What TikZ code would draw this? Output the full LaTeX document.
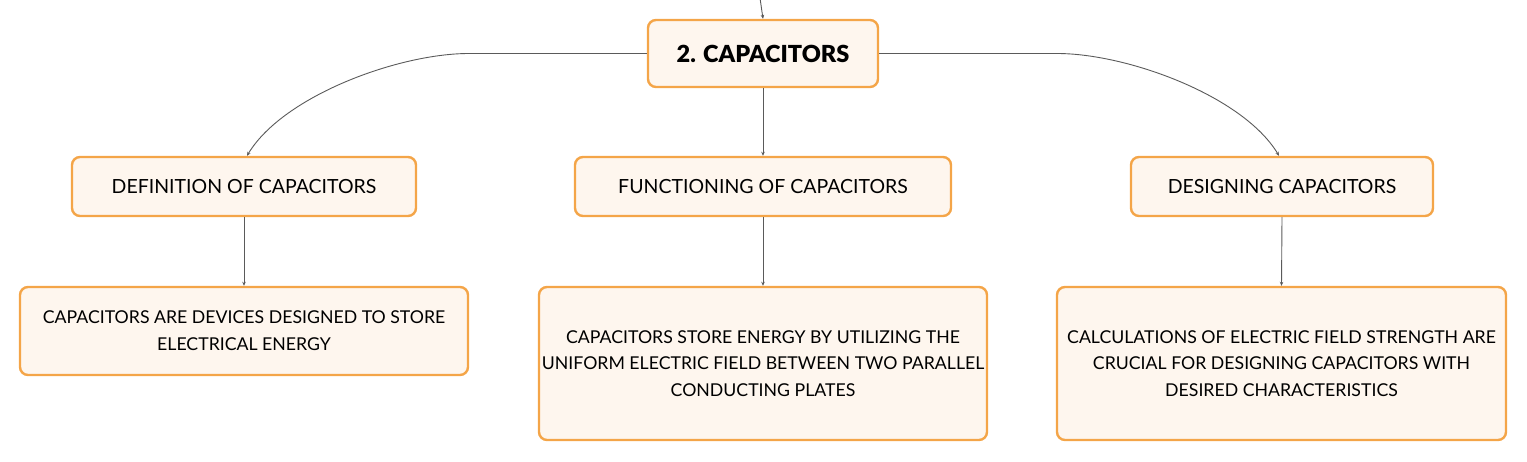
\documentclass[tikz,border=0pt]{standalone}
\usepackage{fontspec}
\setmainfont{Lato}
\newfontfamily\titlefont{Lato Black}
\usetikzlibrary{arrows.meta}
\definecolor{boxfill}{HTML}{FEF6EE}
\definecolor{boxdraw}{HTML}{F4A548}
\definecolor{linegray}{HTML}{5A5A5A}
\tikzset{
  box/.style={draw=boxdraw, fill=boxfill, line width=2.4pt, rounded corners=8pt,
    inner sep=0pt, align=center, font=\fontsize{17.7}{26.7}\selectfont},
  midbox/.style={box, font=\fontsize{19.5}{26.7}\selectfont},
  titlebox/.style={box, font=\fontsize{23.5}{28}\titlefont},
  arr/.style={draw=linegray, line width=0.9pt, -{Stealth[length=4pt,width=3.5pt]}}
}
\begin{document}
\begin{tikzpicture}[x=1pt,y=-1pt]
\useasboundingbox (0,0) rectangle (1527,461);
\node[titlebox, minimum width=230pt, minimum height=67pt] (top) at (763,53.5) {2. CAPACITORS};
\node[midbox, minimum width=344pt, minimum height=59pt] (def) at (244,186.5) {DEFINITION OF CAPACITORS};
\node[midbox, minimum width=376pt, minimum height=59pt] (fun) at (763,186.5) {FUNCTIONING OF CAPACITORS};
\node[midbox, minimum width=302pt, minimum height=59pt] (des) at (1282,186.5) {DESIGNING CAPACITORS};
\node[box, minimum width=448pt, minimum height=88pt] (defd) at (244,331) {CAPACITORS ARE DEVICES DESIGNED TO STORE\\ELECTRICAL ENERGY};
\node[box, minimum width=448pt, minimum height=153pt] (fund) at (763,363.5) {CAPACITORS STORE ENERGY BY UTILIZING THE\\UNIFORM ELECTRIC FIELD BETWEEN TWO PARALLEL\\CONDUCTING PLATES};
\node[box, minimum width=449pt, minimum height=153pt] (desd) at (1281.5,363.5) {CALCULATIONS OF ELECTRIC FIELD STRENGTH ARE\\CRUCIAL FOR DESIGNING CAPACITORS WITH\\DESIRED CHARACTERISTICS};
\coordinate (in) at (760,-2);
\draw[arr] (in) -- (top.north);
\draw[arr] (top.west) -- ++(-178,0) .. controls +(-70,0) and +(36,-60) .. ([xshift=3pt]def.north);
\draw[arr] (top.east) -- ++(178,0) .. controls +(70,0) and +(-36,-60) .. ([xshift=-3pt]des.north);
\draw[arr] (top.south) -- (fun.north);
\draw[arr] (def.south) -- (defd.north);
\draw[arr] (fun.south) -- (fund.north);
\draw[arr] (des.south) -- (desd.north);
\end{tikzpicture}
\end{document}
